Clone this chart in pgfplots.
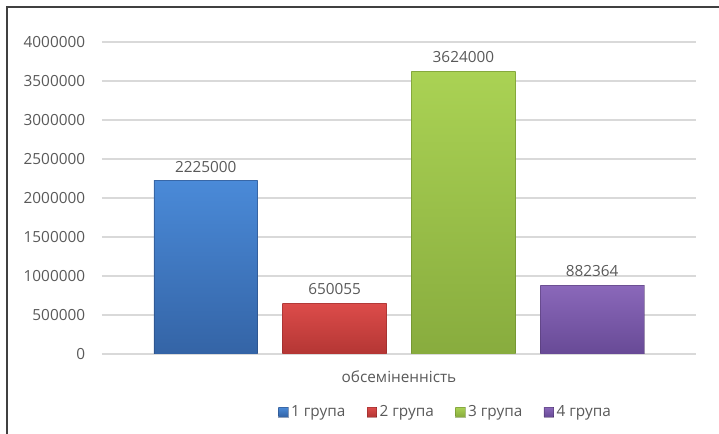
\documentclass[border=0pt]{standalone}
\usepackage{fontspec}
\setmainfont{Open Sans}
\usepackage{pgfplots}
\pgfplotsset{compat=1.18}

\definecolor{txt}{HTML}{595959}
\definecolor{gridc}{HTML}{D9D9D9}
\definecolor{frame}{HTML}{404040}

\begin{document}
\begin{tikzpicture}[font=\fontsize{11.5}{13}\selectfont]
    % page = 719x434 px, 1 px = 0.75pt, origin at lower left of the plot area
    \path[use as bounding box] (-76.5pt,-60pt) rectangle (462.75pt,265.5pt);
    \draw[frame, line width=0.8pt] (-71.25pt,-60pt) -- (-71.25pt,260.25pt) -- (462.75pt,260.25pt);

    \begin{axis}[
            at={(0,0)}, anchor=south west,
            scale only axis,
            width=445.5pt,
            height=234pt,
            xmin=0.194, xmax=4.806,
            ymin=0, ymax=4000000,
            ytick={0,500000,...,4000000},
            scaled y ticks=false,
            yticklabel style={/pgf/number format/fixed, /pgf/number format/1000 sep={},
                inner sep=0pt, xshift=-12.5pt, text=txt},
            /pgf/number format/assume math mode=true,
            xtick={2.5},
            xticklabels={обсеміненність},
            xticklabel style={text=txt, inner sep=0pt, yshift=-12.5pt},
            major tick length=0pt,
            axis line style={draw=none},
            ymajorgrids,
            grid style={gridc, line width=0.8pt},
            point meta=explicit symbolic,
            nodes near coords,
            nodes near coords style={text=txt, anchor=south, inner sep=0pt, yshift=6pt},
            legend columns=4,
            legend style={draw=none, fill=none, at={(0.579,-0.186)}, anchor=center,
                text=txt, /tikz/every even column/.append style={column sep=14pt}},
            legend image code/.code={\fill[#1] (0pt,-3.6pt) rectangle (7.2pt,3.6pt);},
            every axis plot/.append style={ybar, bar width=0.806, bar shift=0pt},
        ]
        % 1 група
        \addplot[draw={rgb,255:red,40;green,70;blue,120}, draw opacity=0.5,
            top color={rgb,255:red,74;green,138;blue,216}, bottom color={rgb,255:red,52;green,100;blue,166}]
            coordinates {(1,2225000) [2225000]};
        \addlegendentry{1 група}
        % 2 група
        \addplot[draw={rgb,255:red,140;green,40;blue,40}, draw opacity=0.5,
            top color={rgb,255:red,220;green,76;blue,74}, bottom color={rgb,255:red,180;green,54;blue,52}]
            coordinates {(2,650055) [650055]};
        \addlegendentry{2 група}
        % 3 група
        \addplot[draw={rgb,255:red,100;green,130;blue,40}, draw opacity=0.5,
            top color={rgb,255:red,170;green,210;blue,84}, bottom color={rgb,255:red,136;green,172;blue,62}]
            coordinates {(3,3624000) [3624000]};
        \addlegendentry{3 група}
        % 4 група
        \addplot[draw={rgb,255:red,80;green,55;blue,110}, draw opacity=0.5,
            top color={rgb,255:red,138;green,104;blue,186}, bottom color={rgb,255:red,104;green,74;blue,150}]
            coordinates {(4,882364) [882364]};
        \addlegendentry{4 група}
    \end{axis}
\end{tikzpicture}
\end{document}
